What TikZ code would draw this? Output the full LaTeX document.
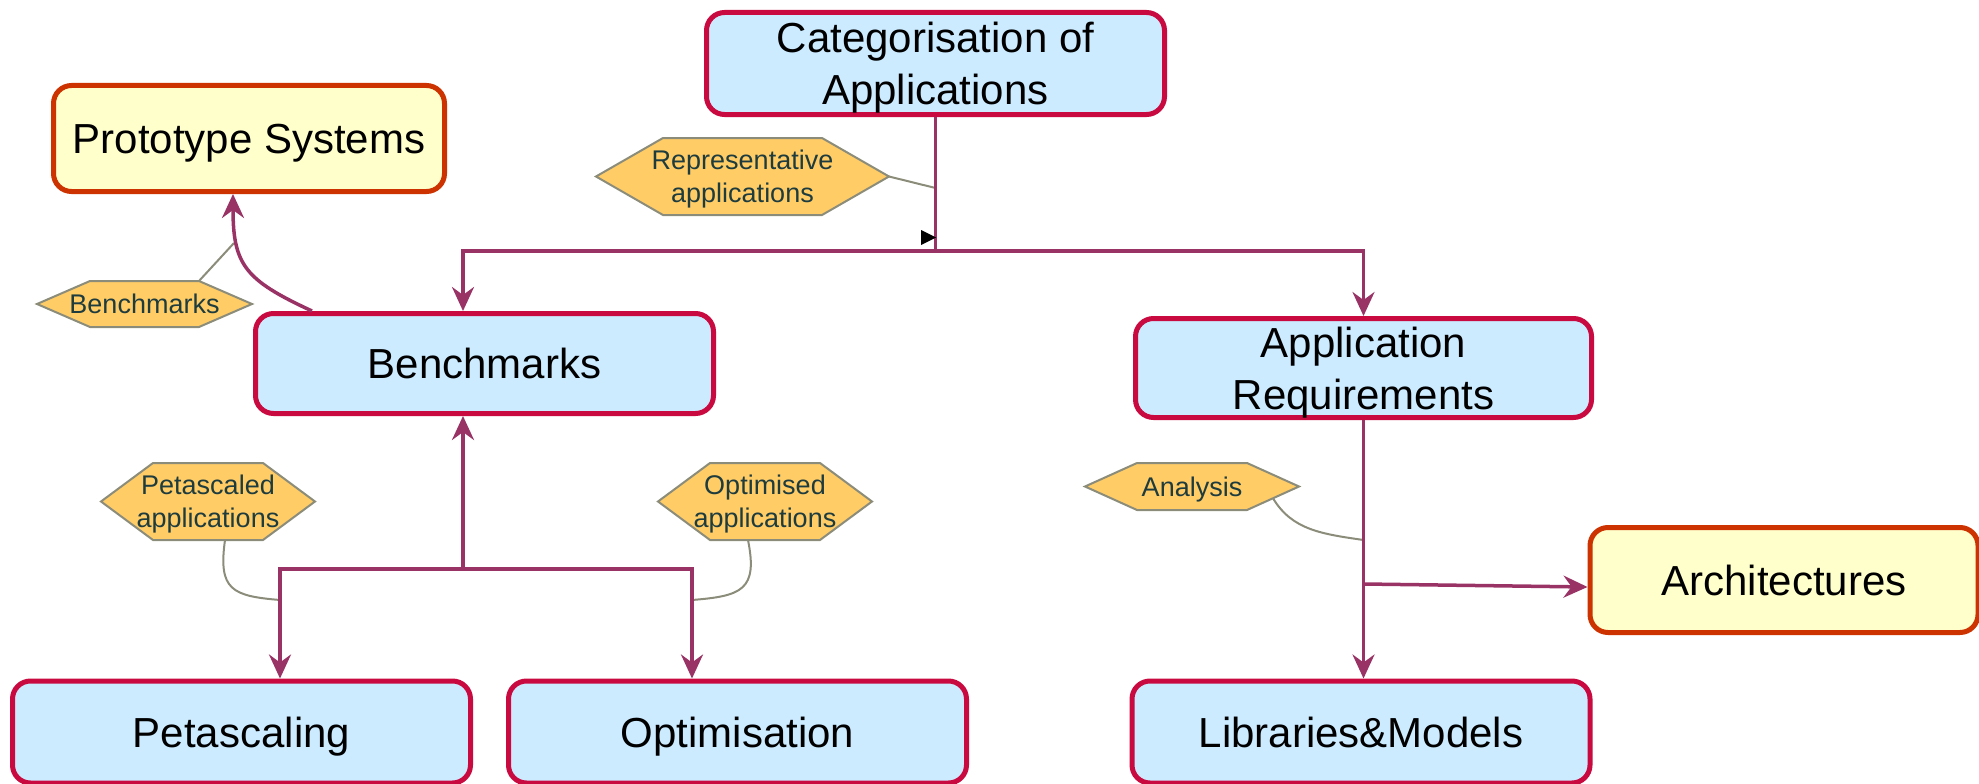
\documentclass[tikz,border=0pt]{standalone}
\usepackage{fontspec}
\setmainfont{Liberation Sans}
\usetikzlibrary{arrows.meta,backgrounds,calc}
\definecolor{boxred}{RGB}{200,10,64}
\definecolor{boxblue}{RGB}{204,235,255}
\definecolor{ybord}{RGB}{204,51,0}
\definecolor{yfill}{RGB}{255,255,204}
\definecolor{hexfill}{RGB}{255,204,102}
\definecolor{hexbord}{RGB}{140,140,122}
\definecolor{hextext}{RGB}{30,60,62}
\definecolor{conncol}{RGB}{153,51,102}
\definecolor{notegray}{RGB}{140,140,122}
\newcommand\drawhex[2]{\draw[hexshape] (#1.west) -- ([xshift=#2pt]#1.north west) -- ([xshift=-#2pt]#1.north east) -- (#1.east) -- ([xshift=-#2pt]#1.south east) -- ([xshift=#2pt]#1.south west) -- cycle;}
\begin{document}
\begin{tikzpicture}[x=1pt,y=-1pt,
  box/.style={draw=boxred, fill=boxblue, line width=5pt, rounded corners=18pt,
    minimum width=458pt, minimum height=102pt, inner sep=0pt, align=center,
    text depth=0pt, font=\fontsize{42}{52}\selectfont},
  ybox/.style={box, draw=ybord, fill=yfill},
  hexnode/.style={inner sep=0pt, outer sep=0pt, align=center, text=hextext,
    text depth=0pt, font=\fontsize{27}{33}\selectfont},
  hexshape/.style={draw=hexbord, fill=hexfill, line width=2pt, line join=miter},
  conn/.style={draw=conncol, line width=3.5pt},
  arr/.style={conn, -{Stealth[length=24pt,width=22pt,inset=8pt]}},
  note/.style={draw=notegray, line width=2pt}]
\useasboundingbox (0,0) rectangle (1979,784);

% boxes
\node[box] (cat) at (935.5,63.5) {Categorisation of\\Applications};
\node[ybox, minimum width=391pt, minimum height=106pt] (proto) at (249,138.5) {Prototype Systems};
\node[box, minimum height=100pt] (bench) at (484.5,363.5) {Benchmarks};
\node[box, minimum width=456pt, minimum height=99pt] (appreq) at (1363.5,368) {Application\\Requirements};
\node[box] (peta) at (241.5,732) {Petascaling};
\node[box] (opt) at (737.5,732) {Optimisation};
\node[box] (lib) at (1361,732) {Libraries\&Models};
\node[ybox, minimum width=388pt, minimum height=105pt] (arch) at (1784,580) {Architectures};

% hexagon labels
\node[hexnode, minimum width=293pt, minimum height=77pt] (rep) at (742.5,176.5) {Representative\\applications};
\node[hexnode, minimum width=215pt, minimum height=46pt] (bmk) at (144.5,304) {Benchmarks};
\node[hexnode, minimum width=214pt, minimum height=77pt] (pet) at (208,501.5) {Petascaled\\applications};
\node[hexnode, minimum width=214pt, minimum height=77pt] (opta) at (765,501.5) {Optimised\\applications};
\node[hexnode, minimum width=214pt, minimum height=47pt] (ana) at (1192,486.5) {Analysis};
\begin{scope}[on background layer]
\drawhex{rep}{67}
\drawhex{bmk}{53}
\drawhex{pet}{52}
\drawhex{opta}{52}
\drawhex{ana}{52}
\end{scope}

% coordinates
\coordinate (catj) at (935.5,251);
\coordinate (benchin) at (463,0 |- bench.north);
\coordinate (repc) at (935.5,188);
\coordinate (bj) at (463,569);
\coordinate (benchout) at (463,0 |- bench.south);
\coordinate (petain) at (280,0 |- peta.north);
\coordinate (optin) at (692,0 |- opt.north);
\coordinate (petc) at (280,600);
\coordinate (optc) at (692,600);
\coordinate (bstart) at (312,0 |- bench.north);
\coordinate (protoin) at (233,0 |- proto.south);
\coordinate (bmkc) at (234,243);
\coordinate (libin) at (appreq.south |- lib.north);
\coordinate (archj) at (1363.5,584);
\coordinate (archin) at (arch.west |- 0,587);
\coordinate (anac) at (1363.5,540);

% annotation lines
\draw[note] (rep.east) -- (repc);
\draw[note] ([xshift=-53pt]bmk.north east) -- (bmkc);
\draw[note] ([xshift=17pt]pet.south) .. controls (218,590) and (232,596) .. (petc);
\draw[note] ([xshift=-17pt]opta.south) .. controls (758,590) and (742,596) .. (optc);
\draw[note] ($(ana.east)!0.5!([xshift=-52pt]ana.south east)$) .. controls (1292,530) and (1322,534) .. (anac);

% connectors
\draw[conn] (cat.south) -- (catj);
\draw[arr] (catj) -| (benchin);
\draw[arr] (catj) -| (appreq.north);
\fill (921,230) -- (936,237.5) -- (921,245) -- cycle;

\draw[arr] (bstart) .. controls (245,280) and (233,265) .. (protoin);

\draw[arr] (bj) -- (benchout);
\draw[arr] (bj) -| (petain);
\draw[arr] (bj) -| (optin);

\draw[arr] (appreq.south) -- (libin);
\draw[arr] (archj) -- (archin);
\end{tikzpicture}
\end{document}
